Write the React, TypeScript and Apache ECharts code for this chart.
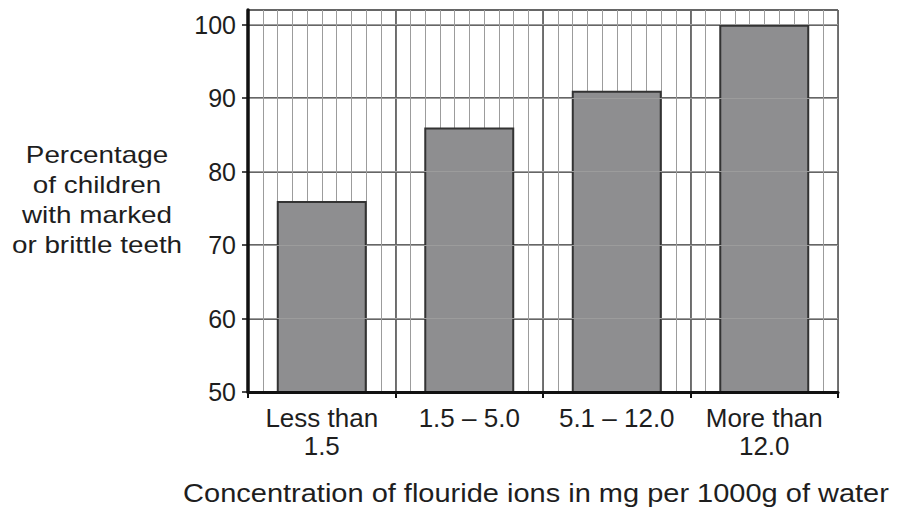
import React, { useEffect, useRef } from "react";
import * as echarts from "echarts";

const categories = ["Less than\n1.5", "1.5 – 5.0", "5.1 – 12.0", "More than\n12.0"];
const percentages = [76, 86, 91, 100];
const yTickValues = [50, 60, 70, 80, 90, 100];
const yTitleLines = ["Percentage", "of children", "with marked", "or brittle teeth"];
const xTitle = "Concentration of flouride ions in mg per 1000g of water";

const FONT = 'Arial, "Liberation Sans", sans-serif';

export default function App() {
  const ref = useRef<HTMLDivElement>(null);
  useEffect(() => {
    if (!ref.current) return;
    const chart = echarts.init(ref.current, undefined, { renderer: "svg" });
    const grid = { left: 248, right: 59, top: 10, bottom: 124 };
    chart.setOption({
      animation: false,
      backgroundColor: "#ffffff",
      grid,
      xAxis: [
        {
          type: "category",
          data: categories,
          boundaryGap: true,
          axisLine: { lineStyle: { color: "#111", width: 3 } },
          axisTick: { show: true, length: 6, lineStyle: { color: "#111", width: 2 } },
          axisLabel: {
            interval: 0,
            hideOverlap: false,
            color: "#1e1e1e",
            fontFamily: FONT,
            fontSize: 26,
            lineHeight: 28,
            margin: 12,
          },
          splitLine: { show: false },
          z: 5,
        },
        {
          type: "value",
          min: 0,
          max: 4,
          interval: 0.1,
          show: true,
          position: "top",
          axisLine: { show: false },
          axisTick: { show: false },
          axisLabel: { show: false },
          splitLine: { show: true, lineStyle: { color: "#9c9c9c", width: 1 } },
        },
        {
          type: "value",
          min: 0,
          max: 4,
          interval: 1,
          show: true,
          position: "top",
          axisLine: { show: false },
          axisTick: { show: false },
          axisLabel: { show: false },
          splitLine: { show: true, lineStyle: { color: "#666", width: 1.8 } },
        },
      ],
      yAxis: [
        {
          type: "value",
          min: 50,
          max: 102,
          interval: 2,
          axisLine: { show: true, lineStyle: { color: "#111", width: 3.5 } },
          axisTick: {
            show: true,
            length: 6,
            customValues: yTickValues,
            lineStyle: { color: "#111", width: 1.5 },
          },
          axisLabel: {
            customValues: yTickValues,
            color: "#1e1e1e",
            fontFamily: FONT,
            fontSize: 25,
            margin: 12,
          },
          splitLine: { show: true, lineStyle: { color: "#9c9c9c", width: 1 } },
          z: 5,
        },
        {
          type: "value",
          min: 50,
          max: 102,
          interval: 10,
          show: true,
          axisLine: { show: false },
          axisTick: { show: false },
          axisLabel: { show: false },
          splitLine: { show: true, lineStyle: { color: "#666", width: 1.8 } },
        },
      ],
      series: [
        {
          type: "bar",
          xAxisIndex: 0,
          yAxisIndex: 0,
          data: percentages,
          barWidth: "61%",
          itemStyle: { color: "#8e8e90", borderColor: "#333", borderWidth: 2 },
          z: 3,
        },
      ],
      graphic: [
        {
          type: "text",
          x: 97,
          y: 140,
          scaleX: 1.16,
          style: {
            text: yTitleLines.join("\n"),
            fill: "#1e1e1e",
            font: `24px ${FONT}`,
            lineHeight: 30,
            align: "center",
            verticalAlign: "top",
          },
        },
        {
          type: "text",
          x: 536,
          y: 493,
          scaleX: 1.16,
          style: {
            text: xTitle,
            fill: "#1e1e1e",
            font: `25px ${FONT}`,
            align: "center",
            verticalAlign: "middle",
          },
        },
      ],
    });
    return () => chart.dispose();
  }, []);
  return (
    <div
      ref={ref}
      style={{ position: "fixed", left: 0, top: 0, width: 897, height: 516 }}
    />
  );
}
